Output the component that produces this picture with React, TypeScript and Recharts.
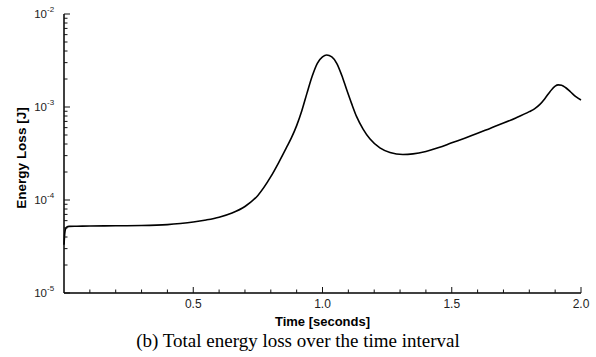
import { Line, LineChart, XAxis, YAxis } from "recharts";

const timeSeconds = [
  0, 0.003, 0.006, 0.01, 0.02, 0.05, 0.1, 0.2, 0.3, 0.4, 0.45, 0.5, 0.55, 0.6, 0.65, 0.7, 0.75,
  0.8, 0.83, 0.86, 0.88, 0.9, 0.92, 0.94, 0.96, 0.98, 1.0, 1.016, 1.036, 1.055, 1.074, 1.094,
  1.113, 1.132, 1.157, 1.184, 1.222, 1.261, 1.311, 1.35, 1.4, 1.45, 1.5, 1.55, 1.6, 1.65, 1.7,
  1.75, 1.8, 1.82, 1.84, 1.86, 1.88, 1.9, 1.912, 1.925, 1.94, 1.96, 1.98, 2.0,
];

const energyLoss = [
  3.3e-5, 4.4e-5, 4.9e-5, 5.1e-5, 5.2e-5, 5.22e-5, 5.25e-5, 5.28e-5, 5.31e-5, 5.43e-5, 5.58e-5,
  5.79e-5, 6.1e-5, 6.53e-5, 7.24e-5, 8.51e-5, 1.12e-4, 1.78e-4, 2.51e-4, 3.63e-4, 4.68e-4,
  6.31e-4, 9.12e-4, 1.41e-3, 2.14e-3, 2.95e-3, 3.45e-3, 3.62e-3, 3.45e-3, 2.95e-3, 2.21e-3,
  1.52e-3, 1.08e-3, 7.87e-4, 5.79e-4, 4.52e-4, 3.63e-4, 3.24e-4, 3.08e-4, 3.13e-4, 3.33e-4,
  3.66e-4, 4.12e-4, 4.62e-4, 5.21e-4, 5.92e-4, 6.71e-4, 7.67e-4, 8.91e-4, 9.55e-4, 1.06e-3,
  1.23e-3, 1.46e-3, 1.68e-3, 1.73e-3, 1.71e-3, 1.62e-3, 1.45e-3, 1.29e-3, 1.19e-3,
];

const xTicks = [
  0.1, 0.2, 0.3, 0.4, 0.5, 0.6, 0.7, 0.8, 0.9, 1.0, 1.1, 1.2, 1.3, 1.4, 1.5, 1.6, 1.7, 1.8, 1.9, 2.0,
];
const xLabelled = [0.5, 1.0, 1.5, 2.0];

const decades = [-5, -4, -3];
const mantissas = [1, 2, 3, 4, 5, 6, 7, 8, 9];
const yTicks = [...decades.flatMap((e) => mantissas.map((m) => Number(`${m}e${e}`))), 1e-2];

const data = timeSeconds.map((t, i) => ({ t, e: energyLoss[i] }));

const font = "'Liberation Sans', Arial, sans-serif";

// ticks point into the plot, minor ones shorter
function XTick(props: any) {
  const { x, y, payload } = props;
  const v = payload.value;
  const major = xLabelled.some((m) => Math.abs(m - v) < 1e-6);
  const len = major ? 6 : 3.5;
  return (
    <g>
      <rect x={x - 0.5} y={y - len} width={1} height={len} fill="#111" />
      {major && (
        <text x={x} y={y + 15} textAnchor="middle" fontSize={12} fontFamily={font} fill="#222">
          {v.toFixed(1)}
        </text>
      )}
    </g>
  );
}

function YTick(props: any) {
  const { x, y, payload } = props;
  const v = payload.value;
  const exp = Math.log10(v);
  const major = Math.abs(exp - Math.round(exp)) < 1e-6;
  const len = major ? 6 : 3.5;
  return (
    <g>
      <rect x={x} y={y - 0.5} width={len} height={1} fill="#111" />
      {major && (
        <text x={x - 17} y={y + 4} textAnchor="end" fontSize={11.5} fontFamily={font} fill="#222">
          10
        </text>
      )}
      {major && (
        <text x={x - 17} y={y - 2} textAnchor="start" fontSize={8} fontFamily={font} fill="#222">
          {`-${Math.abs(Math.round(exp))}`}
        </text>
      )}
    </g>
  );
}

export default function App() {
  return (
    <div style={{ position: "absolute", left: 0, top: 0, width: 596, height: 357, background: "#fff" }}>
      <LineChart width={596} height={357} data={data} margin={{ top: 14, right: 15, left: 0, bottom: 0 }}>
        <XAxis
          dataKey="t"
          type="number"
          domain={[0, 2]}
          ticks={xTicks}
          tick={<XTick />}
          tickLine={false}
          tickSize={0}
          tickMargin={0}
          height={64}
          interval={0}
          axisLine={{ stroke: "#000", strokeWidth: 1.5 }}
        />
        <YAxis
          dataKey="e"
          scale="log"
          domain={[1e-5, 1e-2]}
          ticks={yTicks}
          tick={<YTick />}
          tickLine={false}
          tickSize={0}
          tickMargin={0}
          width={64}
          interval={0}
          allowDataOverflow
          axisLine={{ stroke: "#000", strokeWidth: 1.5 }}
        />
        <Line
          type="monotone"
          dataKey="e"
          stroke="#000"
          strokeWidth={1.6}
          dot={false}
          isAnimationActive={false}
        />
      </LineChart>
      <div
        style={{
          position: "absolute",
          left: 0,
          width: 645,
          top: 314,
          textAlign: "center",
          font: `bold 13px ${font}`,
          color: "#000",
        }}
      >
        Time [seconds]
      </div>
      <div
        style={{
          position: "absolute",
          left: 10,
          top: 158,
          transform: "translate(-50%, -50%) rotate(-90deg)",
          transformOrigin: "center",
          font: `bold 13.5px ${font}`,
          whiteSpace: "nowrap",
          color: "#000",
          marginLeft: 11,
        }}
      >
        Energy Loss [J]
      </div>
      <div
        style={{
          position: "absolute",
          left: 0,
          width: 596,
          top: 330,
          textAlign: "center",
          font: "19px 'Liberation Serif', 'Times New Roman', serif",
          color: "#000",
        }}
      >
        (b) Total energy loss over the time interval
      </div>
    </div>
  );
}
